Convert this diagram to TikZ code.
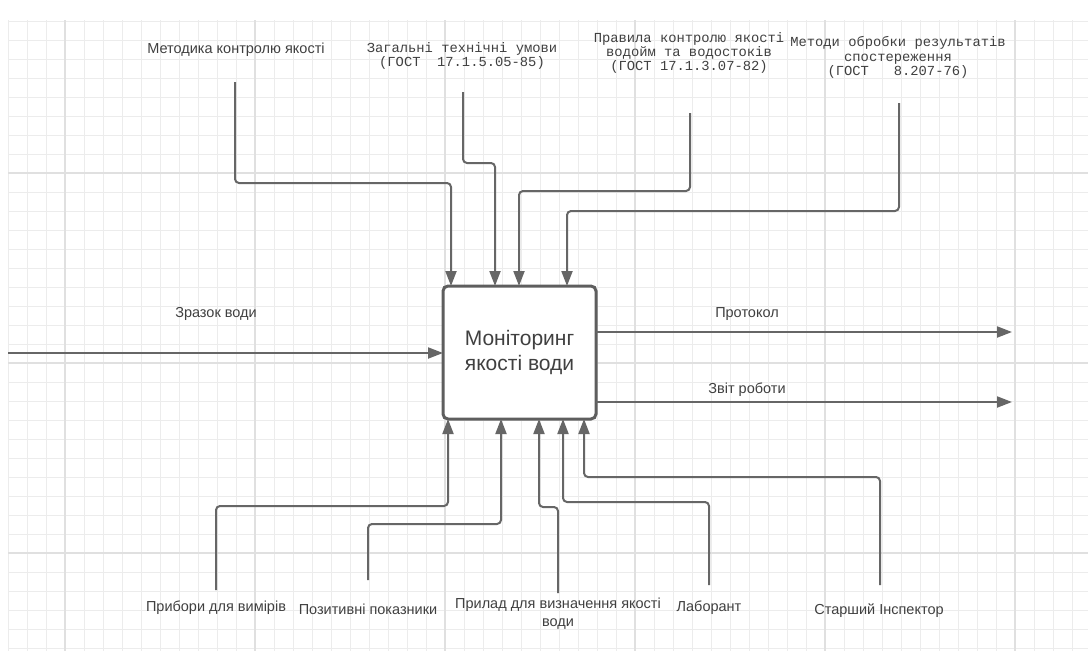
\documentclass[tikz,border=0pt]{standalone}
\usepackage{fontspec}
\setmainfont{Liberation Sans}
\newfontfamily\monofont{Liberation Mono}
\usetikzlibrary{arrows.meta}
\definecolor{gridminor}{HTML}{ECECEC}
\definecolor{gridmajor}{HTML}{E0E0E0}
\definecolor{linecol}{HTML}{666666}
\definecolor{boxcol}{HTML}{5E5E5E}
\definecolor{txtcol}{HTML}{404040}
\begin{document}
\begin{tikzpicture}[x=1pt,y=-1pt,
  conn/.style={draw=linecol, line width=2pt, rounded corners=4pt,
    -{Triangle[length=15pt,width=11pt]}},
  lbl/.style={text=txtcol, font=\fontsize{14.5}{18}\selectfont, inner sep=0pt, align=center},
  mono/.style={text=txtcol, font=\monofont\fontsize{13.8}{14.5}\selectfont, inner sep=0pt, align=center},
  monotight/.style={text=txtcol, font=\monofont\fontsize{13.8}{11.5}\selectfont, inner sep=0pt, align=center},
  mainbox/.style={draw=boxcol, line width=3pt, rounded corners=5pt, fill=white,
    minimum width=153pt, minimum height=133pt, outer sep=0pt, inner sep=0pt,
    text=txtcol, font=\fontsize{21}{25}\selectfont, align=center}]
\useasboundingbox (0,0) rectangle (1088,651);
\fill[white] (0,0) rectangle (1088,651);
% grid
\begin{scope}
\clip (8,20) rectangle (1088,651);
\foreach \k in {0,...,56} {\draw[gridminor, line width=1pt] (8+19*\k,20) -- (8+19*\k,651);}
\foreach \k in {0,...,33} {\draw[gridminor, line width=1pt] (8,21+19*\k) -- (1088,21+19*\k);}
\foreach \k in {0,...,5} {\draw[gridmajor, line width=1.5pt] (65+190*\k,20) -- (65+190*\k,651);}
\foreach \k in {0,...,2} {\draw[gridmajor, line width=1.5pt] (8,173+190*\k) -- (1088,173+190*\k);}
\end{scope}

% main box
\node[mainbox] (box) at (519.5,352.5) {Моніторинг\\якості води};

% labels
\node[lbl] (lm1) at (236,50) {Методика контролю якості};
\node[mono] (lm2) at (462,56) {Загальні технічні умови\\(ГОСТ~~17.1.5.05-85)};
\node[monotight] (lm3) at (689,53) {Правила контролю якості\\водойм та водостоків\\(ГОСТ 17.1.3.07-82)};
\node[mono] (lm4) at (898,57.5) {Методи обробки результатів\\спостереження\\(ГОСТ~~~8.207-76)};
\node[lbl] (lin) at (216,314) {Зразок води};
\node[lbl] (lo1) at (747,314) {Протокол};
\node[lbl] (lo2) at (747,390) {Звіт роботи};
\node[lbl] (lb1) at (216,608) {Прибори для вимірів};
\node[lbl] (lb2) at (368,609) {Позитивні показники};
\node[lbl] (lb3) at (558,614) {Прилад для визначення якості\\води};
\node[lbl] (lb4) at (709,608) {Лаборант};
\node[lbl] (lb5) at (879,611) {Старший Інспектор};

% free ends
\coordinate (in0) at (8,353);
\coordinate (out1) at (1012,332);
\coordinate (out2) at (1012,402);
\coordinate (c1) at (235,82);
\coordinate (c2) at (463,92);
\coordinate (c3) at (690,113);
\coordinate (c4) at (899,103);
\coordinate (m1) at (216,590);
\coordinate (m2) at (368,580);
\coordinate (m3) at (558,593);
\coordinate (m4) at (709,585);
\coordinate (m5) at (880,585);

% input / outputs
\draw[conn] (in0) -- (in0 -| box.west);
\draw[conn] (out1 -| box.east) -- (out1);
\draw[conn] (out2 -| box.east) -- (out2);

% controls
\draw[conn] (c1) -- (235,183) -- (451,183) -- ([xshift=8pt]box.north west);
\draw[conn] (c2) -- (463,163) -- (495,163) -- ([xshift=52pt]box.north west);
\draw[conn] (c3) -- (690,191) -- (519,191) -- ([xshift=76pt]box.north west);
\draw[conn] (c4) -- (899,211) -- (567,211) -- ([xshift=124pt]box.north west);

% mechanisms
\draw[conn] (m1) -- (216,506) -- (448,506) -- ([xshift=5pt]box.south west);
\draw[conn] (m2) -- (368,524) -- (501,524) -- ([xshift=58pt]box.south west);
\draw[conn] (m3) -- (558,507) -- (539,507) -- ([xshift=96pt]box.south west);
\draw[conn] (m4) -- (709,502) -- (563,502) -- ([xshift=120pt]box.south west);
\draw[conn] (m5) -- (880,477) -- (584,477) -- ([xshift=141pt]box.south west);
\end{tikzpicture}
\end{document}
